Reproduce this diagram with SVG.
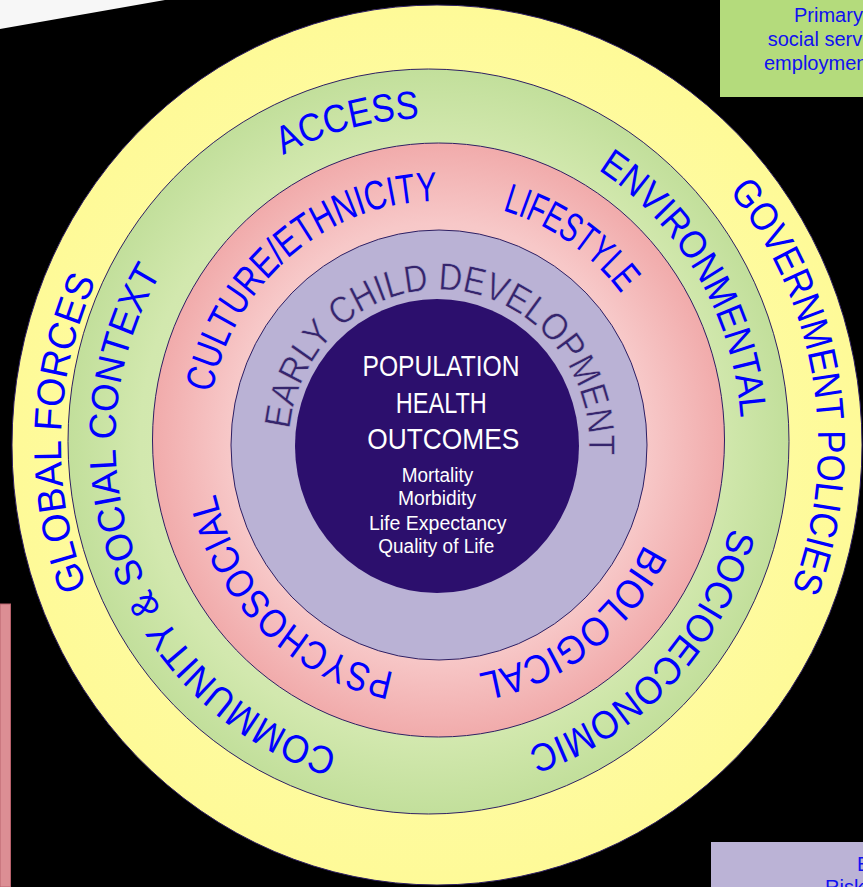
<svg xmlns="http://www.w3.org/2000/svg" xmlns:xlink="http://www.w3.org/1999/xlink" width="863" height="887" viewBox="0 0 863 887">
  <defs>
    <radialGradient id="gYellow" cx="50%" cy="50%" r="50%">
      <stop offset="0" stop-color="#fffdb8"/>
      <stop offset="1" stop-color="#fefa98"/>
    </radialGradient>
    <radialGradient id="gGreen" cx="50%" cy="50%" r="50%">
      <stop offset="0" stop-color="#e0f0c8"/>
      <stop offset="0.8" stop-color="#d2e8ae"/>
      <stop offset="1" stop-color="#c2df9b"/>
    </radialGradient>
    <radialGradient id="gPink" cx="50%" cy="50%" r="50%">
      <stop offset="0" stop-color="#fbe0e0"/>
      <stop offset="0.73" stop-color="#f7c8c8"/>
      <stop offset="1" stop-color="#f1abab"/>
    </radialGradient>
    <!-- circular baselines centred on the origin; half length sits at the top -->
    <path id="r376" d="M0,376 A376,376 0 1,1 0,-376 A376,376 0 1,1 0,376"/>
    <path id="r381" d="M0,381 A381,381 0 1,1 0,-381 A381,381 0 1,1 0,381"/>
    <path id="r313" d="M0,313 A313,313 0 1,1 0,-313 A313,313 0 1,1 0,313"/>
    <path id="r231" d="M0,231 A231,231 0 1,1 0,-231 A231,231 0 1,1 0,231"/>
    <path id="r229" d="M0,229 A229,229 0 1,1 0,-229 A229,229 0 1,1 0,229"/>
    <path id="r150" d="M0,150 A150,150 0 1,1 0,-150 A150,150 0 1,1 0,150"/>
    <style>
      .ring { stroke: #2e1f63; stroke-width: 1; }
      .lbl { font-family: "Liberation Sans", Arial, sans-serif; fill: #0000ff; text-anchor: middle; }
      .ecd { font-family: "Liberation Sans", Arial, sans-serif; fill: #35256c; stroke: #bab2d5; stroke-width: 0.5; text-anchor: middle; }
      .core { font-family: "Liberation Sans", Arial, sans-serif; fill: #ffffff; text-anchor: middle; }
      .note { font-family: "Liberation Sans", Arial, sans-serif; fill: #1010f0; font-size: 20px; }
    </style>
  </defs>

  <!-- backdrop -->
  <rect x="0" y="0" width="863" height="887" fill="#000000"/>
  <polygon points="0,0 165,0 0,29" fill="#f7f7f7"/>

  <!-- side panels -->
  <g id="panel-services">
    <rect x="720" y="0" width="143" height="97" fill="#b4db7c"/>
    <text class="note" x="794" y="22">Primary</text>
    <text class="note" x="767.7" y="46">social serv</text>
    <text class="note" x="764" y="69.5">employmen</text>
  </g>
  <g id="panel-risk">
    <rect x="711" y="842" width="152" height="45" fill="#bbb3d6"/>
    <text class="note" x="857" y="870.6">E</text>
    <text class="note" x="825" y="894">Risk</text>
  </g>
  <g id="panel-left">
    <rect x="0" y="604" width="10.5" height="283" fill="#dc8e94" stroke="#b8626c" stroke-width="1"/>
  </g>

  <!-- outer ring -->
  <g id="ring-global">
    <ellipse class="ring" cx="437" cy="445" rx="425" ry="440" fill="url(#gYellow)"/>
    <text class="lbl" font-size="39" transform="translate(437 445) scale(1 1.035) rotate(271.8)"><textPath xlink:href="#r376" startOffset="50%" textLength="305" lengthAdjust="spacingAndGlyphs">GLOBAL FORCES</textPath></text>
    <text class="lbl" font-size="39" transform="translate(437 445) scale(1 1.035) rotate(80.7)"><textPath xlink:href="#r381" startOffset="50%" textLength="408" lengthAdjust="spacingAndGlyphs">GOVERNMENT POLICIES</textPath></text>
  </g>

  <!-- community ring -->
  <g id="ring-community">
    <ellipse class="ring" cx="428.5" cy="441.5" rx="360.5" ry="372.5" fill="url(#gGreen)"/>
    <text class="lbl" font-size="38" transform="translate(428.5 441.5) scale(1 1.033) rotate(-14.7)"><textPath xlink:href="#r313" startOffset="50%" textLength="142" lengthAdjust="spacingAndGlyphs">ACCESS</textPath></text>
    <text class="lbl" font-size="38" transform="translate(428.5 441.5) scale(1 1.033) rotate(59.3)"><textPath xlink:href="#r313" startOffset="50%" textLength="290" lengthAdjust="spacingAndGlyphs">ENVIRONMENTAL</textPath></text>
    <text class="lbl" font-size="38" transform="translate(428.5 441.5) scale(1 1.033) rotate(249.1)"><textPath xlink:href="#r313" startOffset="50%" textLength="571" lengthAdjust="spacingAndGlyphs">COMMUNITY &amp; SOCIAL CONTEXT</textPath></text>
    <text class="lbl" font-size="38" transform="translate(428.5 441.5) scale(1 1.033) rotate(133.5)"><textPath xlink:href="#r313" startOffset="50%" textLength="307" lengthAdjust="spacingAndGlyphs">SOCIOECONOMIC</textPath></text>
  </g>

  <!-- individual ring -->
  <g id="ring-individual">
    <ellipse class="ring" cx="438.5" cy="440" rx="286" ry="297" fill="url(#gPink)"/>
    <text class="lbl" font-size="40" transform="translate(438.5 440) scale(1 1.035) rotate(-39.5)"><textPath xlink:href="#r231" startOffset="50%" textLength="316" lengthAdjust="spacingAndGlyphs">CULTURE/ETHNICITY</textPath></text>
    <text class="lbl" font-size="40" transform="translate(438.5 440) scale(1 1.035) rotate(34.2)"><textPath xlink:href="#r231" startOffset="50%" textLength="146" lengthAdjust="spacingAndGlyphs">LIFESTYLE</textPath></text>
    <text class="lbl" font-size="39" transform="translate(438.5 440) scale(1 1.035) rotate(143)"><textPath xlink:href="#r229" startOffset="50%" textLength="216" lengthAdjust="spacingAndGlyphs">BIOLOGICAL</textPath></text>
    <text class="lbl" font-size="39" transform="translate(438.5 440) scale(1 1.035) rotate(224)"><textPath xlink:href="#r229" startOffset="50%" textLength="263" lengthAdjust="spacingAndGlyphs">PSYCHOSOCIAL</textPath></text>
  </g>

  <!-- early childhood ring -->
  <g id="ring-early-child">
    <ellipse class="ring" cx="439" cy="445" rx="208" ry="215" fill="#bab2d5"/>
    <text class="ecd" font-size="37" transform="translate(439 445) scale(1 1.035) rotate(4.7)"><textPath xlink:href="#r150" startOffset="50%" textLength="466" lengthAdjust="spacingAndGlyphs">EARLY CHILD DEVELOPMENT</textPath></text>
  </g>

  <!-- core -->
  <g id="core-outcomes">
    <ellipse cx="437" cy="446" rx="142" ry="147" fill="#2c0f6d"/>
    <text class="core" font-size="30" x="441" y="375.7" textLength="157" lengthAdjust="spacingAndGlyphs">POPULATION</text>
    <text class="core" font-size="30" x="441.3" y="412.7" textLength="91" lengthAdjust="spacingAndGlyphs">HEALTH</text>
    <text class="core" font-size="30" x="443.3" y="449" textLength="152" lengthAdjust="spacingAndGlyphs">OUTCOMES</text>
    <text class="core" font-size="20" x="437.5" y="481.7" textLength="71.6" lengthAdjust="spacingAndGlyphs">Mortality</text>
    <text class="core" font-size="20" x="437" y="505" textLength="78" lengthAdjust="spacingAndGlyphs">Morbidity</text>
    <text class="core" font-size="20" x="437.8" y="530" textLength="137.7" lengthAdjust="spacingAndGlyphs">Life Expectancy</text>
    <text class="core" font-size="20" x="436.3" y="553.3" textLength="116" lengthAdjust="spacingAndGlyphs">Quality of Life</text>
  </g>
</svg>
